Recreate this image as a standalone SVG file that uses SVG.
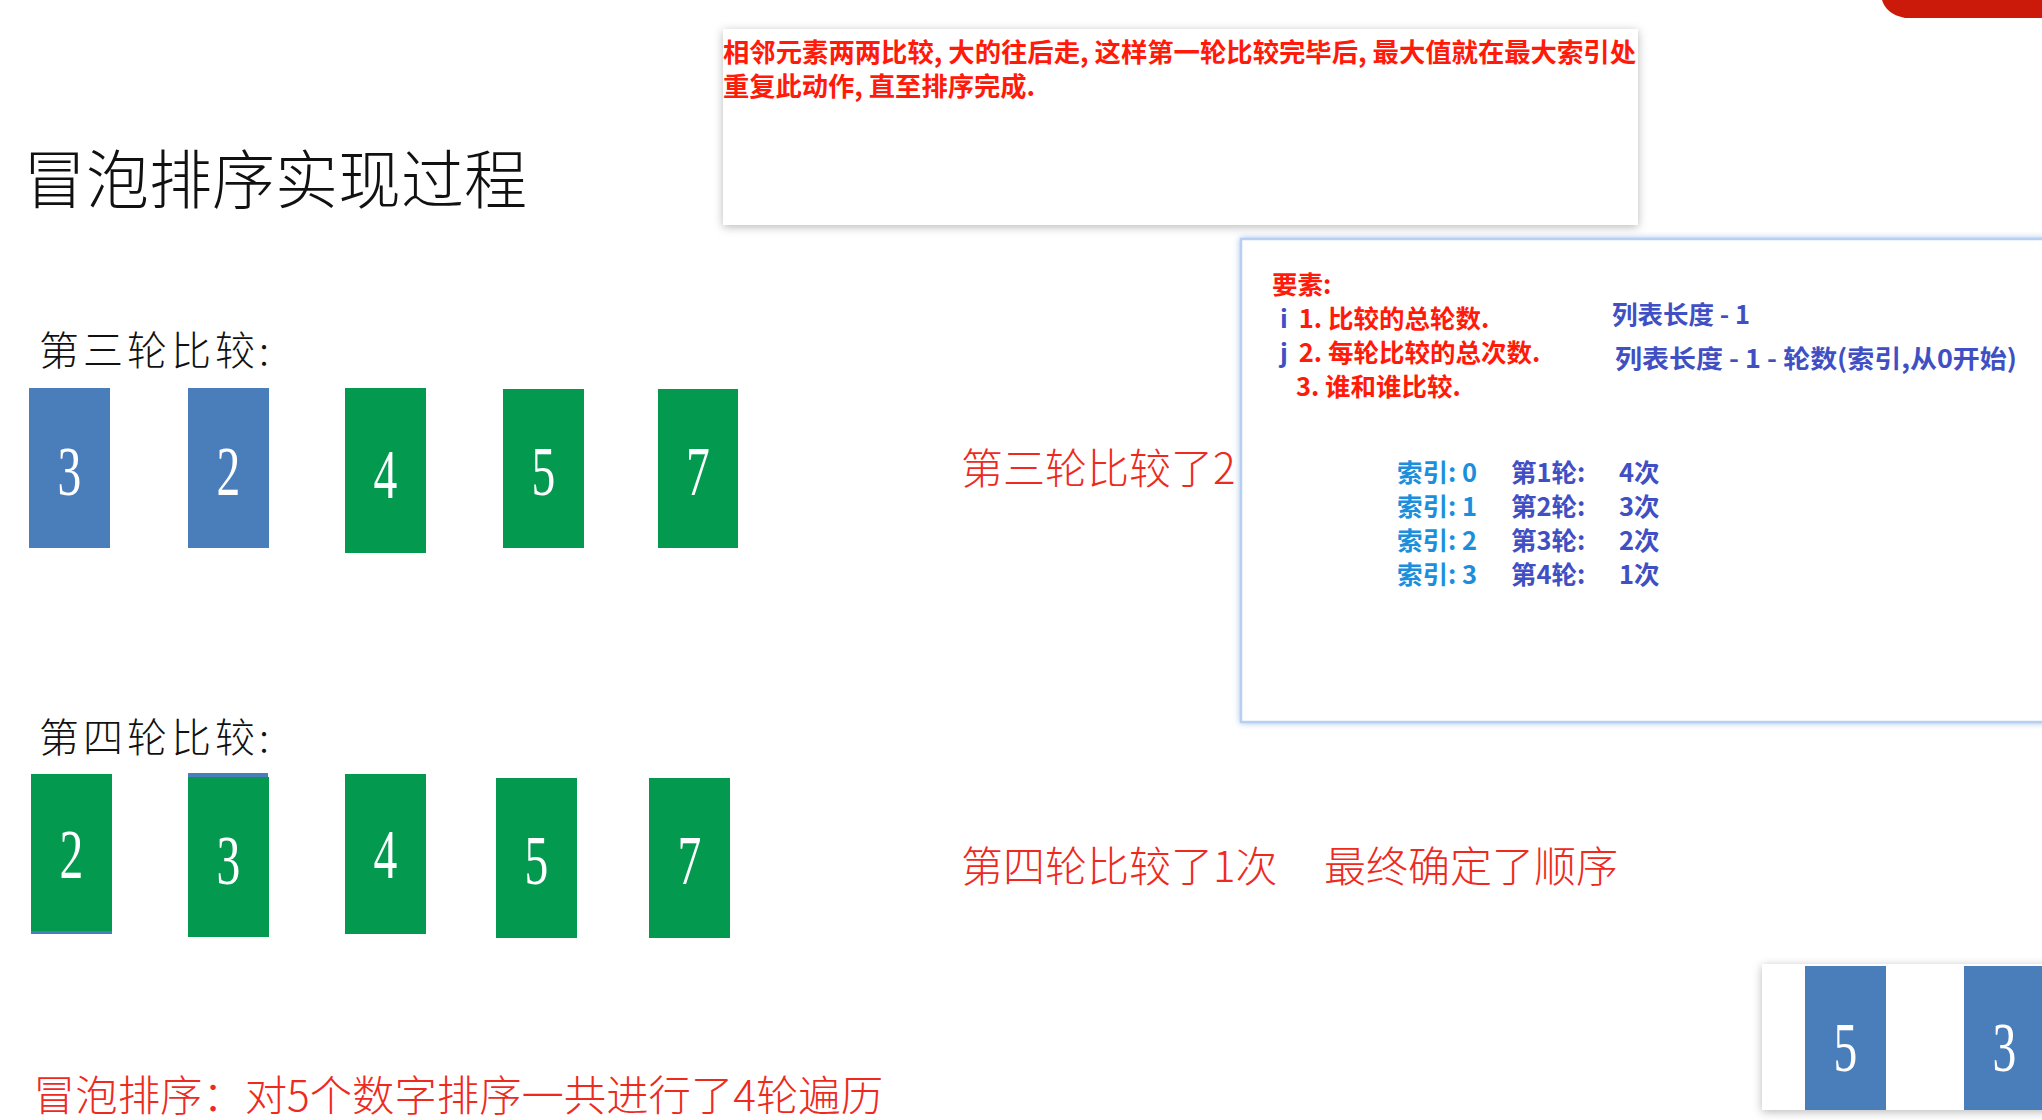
<svg xmlns="http://www.w3.org/2000/svg" width="2042" height="1120" viewBox="0 0 2042 1120">
<defs>
<filter id="shadow" x="-5%" y="-20%" width="110%" height="140%">
<feDropShadow dx="0" dy="2" stdDeviation="5" flood-color="#000" flood-opacity="0.28"/>
</filter>
<filter id="glow" x="-5%" y="-5%" width="110%" height="110%">
<feDropShadow dx="0" dy="0" stdDeviation="3" flood-color="#7fa9e6" flood-opacity="0.7"/>
</filter>
<style>
.cn{font-family:"Noto Sans CJK SC","Noto Sans",sans-serif;font-weight:300;}
.red{fill:#ee2a1e;}
.bold{font-family:"Noto Sans CJK SC","Noto Sans",sans-serif;font-weight:700;}
.rb{fill:#ff1a0a;}
.pb{fill:#4050c4;}
.cy{fill:#1c8fdc;}
.blue{fill:#4a7ebb;}
.green{fill:#03994f;}
.pt{font-size:25.5px;}
.dg{font-family:"Liberation Serif","DejaVu Serif",serif;font-size:70px;fill:#fff;text-anchor:middle;}
</style>
</defs>
<rect width="2042" height="1120" fill="#fff"/>
<path d="M1882,0 H2042 V18 H1905 Q1886,14 1882,0 Z" fill="#cc1a0a"/>

<text class="cn" x="23" y="203" font-size="64" fill="#111" textLength="504" lengthAdjust="spacingAndGlyphs">冒泡排序实现过程</text>

<g id="note-top">
<rect x="723" y="29" width="915" height="196" fill="#fff" filter="url(#shadow)"/>
<text class="bold rb" x="723" y="62" font-size="26" textLength="913" lengthAdjust="spacingAndGlyphs">相邻元素两两比较, 大的往后走, 这样第一轮比较完毕后, 最大值就在最大索引处</text>
<text class="bold rb" x="723" y="96" font-size="26" textLength="312" lengthAdjust="spacingAndGlyphs">重复此动作, 直至排序完成.</text>
</g>

<text class="cn" x="39" y="365" font-size="40" fill="#111" textLength="230" lengthAdjust="spacing">第三轮比较:</text>

<g id="round3">
<g id="r3-3"><rect class="blue" x="29" y="388" width="81" height="160"/><text class="dg" transform="translate(69.5,495) scale(0.68,1)">3</text></g>
<g id="r3-2"><rect class="blue" x="188" y="388" width="81" height="160"/><text class="dg" transform="translate(228.5,495) scale(0.68,1)">2</text></g>
<g id="r3-4"><rect class="green" x="345" y="388" width="81" height="165"/><text class="dg" transform="translate(385.5,498) scale(0.68,1)">4</text></g>
<g id="r3-5"><rect class="green" x="503" y="389" width="81" height="159"/><text class="dg" transform="translate(543.5,495) scale(0.68,1)">5</text></g>
<g id="r3-7"><rect class="green" x="658" y="389" width="80" height="159"/><text class="dg" transform="translate(698,495) scale(0.68,1)">7</text></g>
</g>

<text class="cn red" x="961" y="484" font-size="42">第三轮比较了2</text>

<g id="panel">
<rect x="1241" y="239" width="810" height="483" fill="#fff" stroke="#b7d0f2" stroke-width="2.5" filter="url(#glow)"/>
<text class="bold rb pt" x="1272" y="294">要素:</text>
<text class="bold pt" x="1280" y="328"><tspan class="pb">i</tspan><tspan class="rb" x="1293"> 1. 比较的总轮数.</tspan></text>
<text class="bold pt" x="1280" y="362"><tspan class="pb">j</tspan><tspan class="rb" x="1293"> 2. 每轮比较的总次数.</tspan></text>
<text class="bold rb pt" x="1296" y="396">3. 谁和谁比较.</text>
<text class="bold pb pt" x="1612" y="324">列表长度 - 1</text>
<text class="bold pb pt" x="1615" y="368" textLength="402" lengthAdjust="spacingAndGlyphs">列表长度 - 1 - 轮数(索引,从0开始)</text>
<text class="bold cy pt" x="1397" y="482">索引: 0</text>
<text class="bold cy pt" x="1397" y="516">索引: 1</text>
<text class="bold cy pt" x="1397" y="550">索引: 2</text>
<text class="bold cy pt" x="1397" y="584">索引: 3</text>
<text class="bold pb pt" x="1511" y="482">第1轮:</text>
<text class="bold pb pt" x="1511" y="516">第2轮:</text>
<text class="bold pb pt" x="1511" y="550">第3轮:</text>
<text class="bold pb pt" x="1511" y="584">第4轮:</text>
<text class="bold pb pt" x="1619" y="482">4次</text>
<text class="bold pb pt" x="1619" y="516">3次</text>
<text class="bold pb pt" x="1619" y="550">2次</text>
<text class="bold pb pt" x="1619" y="584">1次</text>
</g>

<text class="cn" x="39" y="752" font-size="40" fill="#111" textLength="230" lengthAdjust="spacing">第四轮比较:</text>

<g id="round4">
<g id="r4-2"><rect class="blue" x="31" y="774" width="81" height="160"/><rect class="green" x="31" y="774" width="81" height="157"/><text class="dg" transform="translate(71.5,878) scale(0.68,1)">2</text></g>
<g id="r4-3"><rect class="blue" x="188" y="773" width="80" height="6"/><rect class="green" x="188" y="777" width="81" height="160"/><text class="dg" transform="translate(228.5,884) scale(0.68,1)">3</text></g>
<g id="r4-4"><rect class="green" x="345" y="774" width="81" height="160"/><text class="dg" transform="translate(385.5,878) scale(0.68,1)">4</text></g>
<g id="r4-5"><rect class="green" x="496" y="778" width="81" height="160"/><text class="dg" transform="translate(536.5,884) scale(0.68,1)">5</text></g>
<g id="r4-7"><rect class="green" x="649" y="778" width="81" height="160"/><text class="dg" transform="translate(689.5,884) scale(0.68,1)">7</text></g>
</g>

<text class="cn red" x="961" y="882" font-size="42">第四轮比较了1次</text>
<text class="cn red" x="1324" y="882" font-size="42">最终确定了顺序</text>

<text class="cn red" x="33" y="1111" font-size="42" textLength="850" lengthAdjust="spacingAndGlyphs">冒泡排序：对5个数字排序一共进行了4轮遍历</text>

<g id="mini-panel">
<rect x="1762" y="964" width="300" height="146" fill="#fff" filter="url(#shadow)"/>
<g id="m-5"><rect class="blue" x="1805" y="966" width="81" height="144"/><text class="dg" transform="translate(1845.5,1071) scale(0.68,1)">5</text></g>
<g id="m-3"><rect class="blue" x="1964" y="966" width="78" height="144"/><text class="dg" transform="translate(2004.5,1071) scale(0.68,1)">3</text></g>
</g>
</svg>
